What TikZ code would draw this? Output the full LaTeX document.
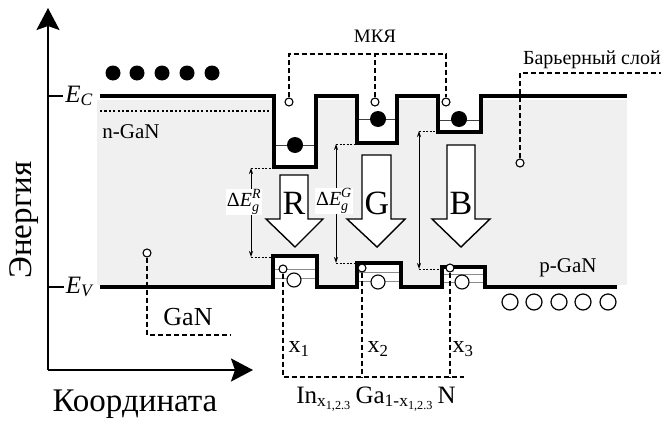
\documentclass[tikz,border=0pt]{standalone}
\usepackage{fontspec}
\usepackage{amsmath}
\setmainfont{Liberation Serif}
\usetikzlibrary{arrows.meta}
\newcommand{\fs}[1]{\fontsize{#1}{#1}\selectfont}
\begin{document}
\begin{tikzpicture}[x=1pt,y=-1pt,
  band/.style={line width=3.6pt, line join=miter},
  axisl/.style={line width=2.4pt},
  dsh/.style={line width=1.8pt, dash pattern=on 5pt off 3pt},
  thinl/.style={line width=0.7pt, black!75},
  lvl/.style={line width=0.7pt, black!45},
  elec/.style={circle, fill=black, inner sep=0pt, minimum size=16pt},
  holebig/.style={circle, draw=black, fill=white, line width=1.2pt, inner sep=0pt, minimum size=16pt},
  holemid/.style={circle, draw=black, fill=white, line width=1.1pt, inner sep=0pt, minimum size=14pt},
  holesm/.style={circle, draw=black, fill=white, line width=1.1pt, inner sep=0pt, minimum size=8pt},
  blockarrow/.style={draw=black, fill=white, line width=1.4pt, line join=miter},
  dimarrow/.style={line width=0.8pt, {Stealth[length=6pt,width=4pt]}-{Stealth[length=6pt,width=4pt]}},
  dimdash/.style={line width=0.8pt, dash pattern=on 2pt off 1.5pt},
  lbl/.style={inner sep=1pt, font=\fs{21}},
]
\useasboundingbox (0,0) rectangle (663,423);
% background
\fill[gray!12] (97,100) rectangle (627,285);
% wells and bumps interior white
\fill[white] (274,96) rectangle (316,167);
\fill[white] (357,96) rectangle (397,143);
\fill[white] (438,96) rectangle (481,132);
\fill[white] (273,256) rectangle (317,287);
\fill[white] (357,263) rectangle (401,287);
\fill[white] (442,267) rectangle (485,287);

% axes
\coordinate (O) at (48,370);
\coordinate (Ytip) at (48,8);
\coordinate (Xtip) at (253,370);
\draw[axisl, -{Stealth[length=22pt,width=23pt,inset=4pt]}] (O) -- (Ytip);
\draw[axisl, -{Stealth[length=22pt,width=23pt,inset=4pt]}] (O) -- (Xtip);
\node[rotate=90, font=\fs{33}] (energy) at (24,220) {Энергия};
\node[font=\fs{33}] (coord) at (135,404) {Координата};

% tick marks and band labels
\coordinate (ECt) at (48,96);
\coordinate (EVt) at (48,287);
\node[fill=white, inner sep=2pt, font=\fs{25}] (EC) at (79,96) {\itshape E\textsubscript{C}};
\node[fill=white, inner sep=2pt, font=\fs{25}] (EV) at (79,287) {\itshape E\textsubscript{V}};
\draw[axisl] (ECt) -- (EC.west);
\draw[axisl] (EVt) -- (EV.west);

% conduction band
\draw[band] (100,96) -- (274,96) -- (274,167) -- (316,167) -- (316,96) -- (357,96) -- (357,143) -- (397,143) -- (397,96) -- (438,96) -- (438,132) -- (481,132) -- (481,96) -- (627,96);
% Fermi dotted line
\draw[line width=2.6pt, dash pattern=on 2.2pt off 2.2pt] (100,111) -- (271,111);
% valence band
\draw[band] (100,287) -- (273,287) -- (273,256) -- (317,256) -- (317,287) -- (357,287) -- (357,263) -- (401,263) -- (401,287) -- (442,287) -- (442,267) -- (485,267) -- (485,287) -- (617,287);

% levels in wells
\draw[thinl] (276,145) -- (314,145);
\draw[thinl] (359,119) -- (395,119);
\draw[thinl] (440,120) -- (479,120);
\node[elec] (e1) at (295,145) {};
\node[elec] (e2) at (378,119) {};
\node[elec] (e3) at (459,119) {};

% levels in bumps
\draw[lvl] (275,269) -- (315,269);
\draw[lvl] (275,278) -- (315,278);
\draw[lvl] (359,272) -- (399,272);
\draw[lvl] (359,281) -- (399,281);
\draw[lvl] (444,274) -- (483,274);
\draw[lvl] (444,282) -- (483,282);
\node[holemid] (h1) at (294,280) {};
\node[holemid] (h2) at (378,282) {};
\node[holemid] (h3) at (462,282) {};
\node[holesm] (s1) at (283,269) {};
\node[holesm] (s2) at (362,268) {};
\node[holesm] (s3) at (450,268) {};

% electrons on top
\foreach \i/\xx in {1/113,2/137,3/162,4/187,5/212}
  \node[elec, minimum size=15pt] (n\i) at (\xx,73) {};
% holes bottom right
\foreach \i/\xx in {1/510,2/534,3/559,4/583,5/608}
  \node[holebig] (p\i) at (\xx,302) {};

% labels n-GaN, p-GaN
\node[lbl] (nGaN) at (131,132) {n-GaN};
\node[lbl] (pGaN) at (568,268) {p-GaN};

% MQW label
\node[holesm] (q1) at (289,102) {};
\node[holesm] (q2) at (375,102) {};
\node[holesm] (q3) at (446,102) {};
\coordinate (q1t) at (289,54);
\coordinate (q2t) at (375,54);
\coordinate (q3t) at (446,54);
\draw[dsh] (q1.north) -- (q1t) -- (q3t) -- (q3.north);
\draw[dsh] (q2.north) -- (q2t);
\node[font=\fs{19}] (mqw) at (375,36) {МКЯ};

% barrier layer
\node[holesm] (bl) at (520,163) {};
\coordinate (blc) at (520,73);
\coordinate (ble) at (661,73);
\draw[dsh] (bl.north) -- (blc) -- (ble);
\node[font=\fs{20}, anchor=south east, inner sep=1pt] (bllab) at (662,70) {Барьерный слой};

% GaN
\node[holesm] (g) at (147,253) {};
\coordinate (gc) at (147,335);
\coordinate (ge) at (230,335);
\draw[dsh] (g.south) -- (gc) -- (ge);
\node[font=\fs{26}] (GaN) at (188,317) {GaN};

% composition lines
\coordinate (x1b) at (283,377);
\coordinate (x2b) at (362,377);
\coordinate (x3b) at (450,377);
\coordinate (xe) at (464,377);
\draw[dsh] (s1.south) -- (x1b) -- (xe);
\draw[dsh] (s2.south) -- (x2b);
\draw[dsh] (s3.south) -- (x3b);
\node[font=\fs{24}] (x1) at (299,349) {x\textsubscript{1}};
\node[font=\fs{24}] (x2) at (378,349) {x\textsubscript{2}};
\node[font=\fs{24}] (x3) at (463,349) {x\textsubscript{3}};
\node[font=\fs{25}, anchor=base] (formula) at (376,403) {In\textsubscript{x\textsubscript{1,2.3}}\,Ga\textsubscript{1-x\textsubscript{1,2.3}}\,N};

% block arrows
\draw[blockarrow] (280,175) -- (308,175) -- (308,219) -- (323,219) -- (295,247) -- (266,219) -- (280,219) -- cycle;
\draw[blockarrow] (362,155) -- (391,155) -- (391,219) -- (405,219) -- (377,247) -- (347,219) -- (362,219) -- cycle;
\draw[blockarrow] (447,145) -- (475,145) -- (475,219) -- (490,219) -- (461,247) -- (432,219) -- (447,219) -- cycle;
\node[font=\fs{34}] (R) at (294,203) {R};
\node[font=\fs{34}] (G) at (377,203) {G};
\node[font=\fs{34}] (B) at (461,203) {B};

% energy gap dimension arrows
\coordinate (rt) at (251,168); \coordinate (rb) at (251,257);
\coordinate (gt) at (336,144); \coordinate (gb) at (336,263);
\coordinate (bt) at (419,131); \coordinate (bb) at (419,269);
\draw[dimdash] (rt) -- (273,168);
\draw[dimdash] (rb) -- (272,257);
\draw[dimdash] (gt) -- (356,144);
\draw[dimdash] (gb) -- (356,263);
\draw[dimdash] (bt) -- (437,131);
\draw[dimdash] (bb) -- (441,269);
\draw[dimarrow] (rt) -- (rb);
\draw[dimarrow] (gt) -- (gb);
\draw[dimarrow] (bt) -- (bb);
\node[fill=white, inner sep=1pt, font=\fs{20}] (dR) at (244,202) {$\text{Δ}\textit{E}^{\textit{R}}_{\textit{g}}$};
\node[fill=white, inner sep=1pt, font=\fs{20}] (dG) at (334,201) {$\text{Δ}\textit{E}^{\textit{G}}_{\textit{g}}$};
\end{tikzpicture}
\end{document}
